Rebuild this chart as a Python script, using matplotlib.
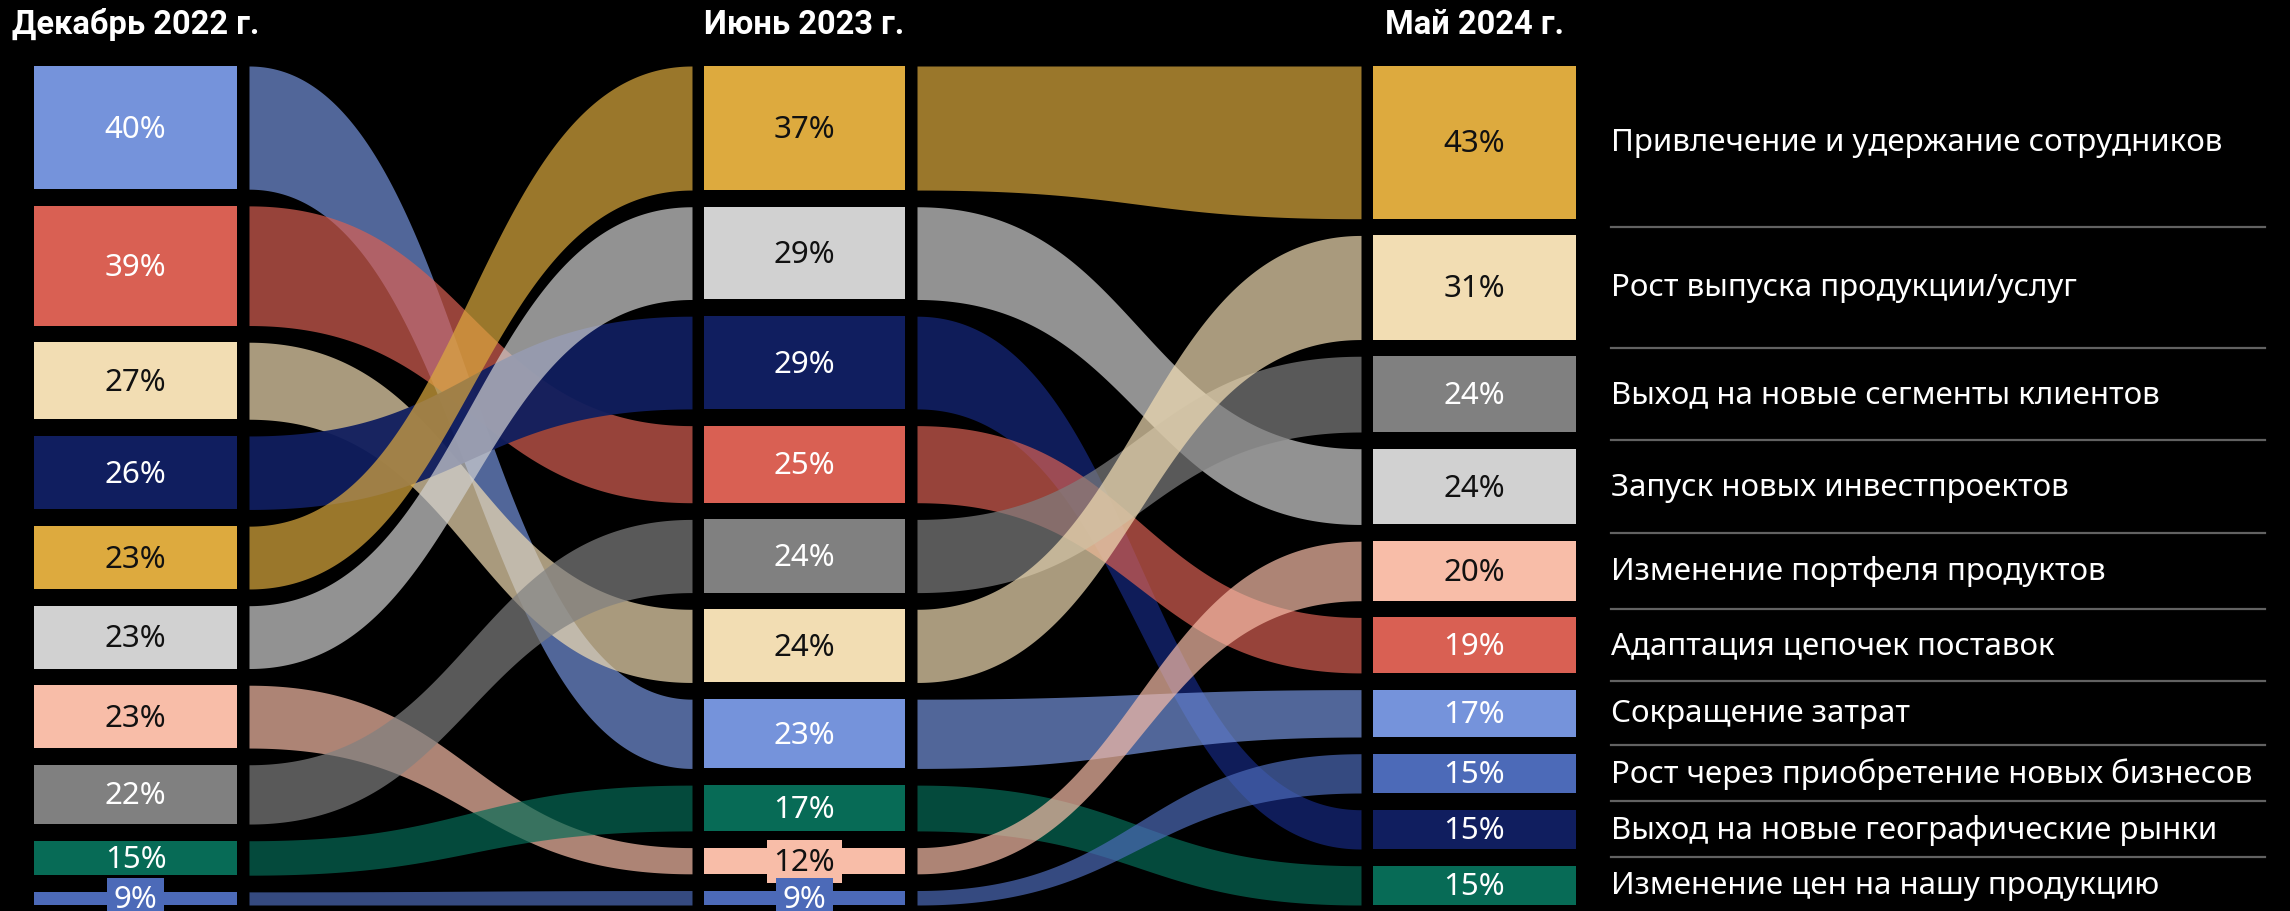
import numpy as np
import matplotlib
matplotlib.use("Agg")
from matplotlib import pyplot as plt

plt.rcParams['font.family'] = ['Noto Sans', 'DejaVu Sans']

periods = ['Декабрь 2022 г.', 'Июнь 2023 г.', 'Май 2024 г.']
categories = [
    'Привлечение и удержание сотрудников',
    'Рост выпуска продукции/услуг',
    'Выход на новые сегменты клиентов',
    'Запуск новых инвестпроектов',
    'Изменение портфеля продуктов',
    'Адаптация цепочек поставок',
    'Сокращение затрат',
    'Рост через приобретение новых бизнесов',
    'Выход на новые географические рынки',
    'Изменение цен на нашу продукцию',
]
colors = ['#DDAA3E', '#F2DDB3', '#808080', '#D1D1D1', '#F8BDA8',
          '#D96053', '#7593DB', '#4C6AB8', '#101E5F', '#076B56']
dec2022 = [23, 27, 22, 23, 23, 39, 40, 9, 26, 15]
jun2023 = [37, 24, 24, 29, 12, 25, 23, 9, 29, 17]
may2024 = [43, 31, 24, 24, 20, 19, 17, 15, 15, 15]
# порядок категорий сверху вниз в каждой колонке
order_dec = [6, 5, 1, 8, 0, 3, 4, 2, 9, 7]
order_jun = [0, 3, 8, 5, 2, 1, 6, 9, 4, 7]
order_may = [0, 1, 2, 3, 4, 5, 6, 7, 8, 9]
dark_text = [0, 1, 3, 4]

W, H = 2290, 912
col_x = [(34, 237), (704, 905), (1373, 1576)]
top, bottom, gap, v0 = 67, 906, 16.7, 5.3
flow_gap = 12


def layout(values, order):
    avail = (bottom - top) - gap * (len(order) - 1)
    w = np.array([values[i] - v0 for i in order])
    h = w / w.sum() * avail
    pos = {}
    y = top
    for i, hh in zip(order, h):
        pos[i] = (y, y + hh)
        y += hh + gap
    return pos


def flow(ax, xa, xb, ya, yb, color, alpha):
    t = np.linspace(0, 1, 300)
    xm = (xa + xb) / 2
    x = xa * (1 - t)**3 + 3 * xm * (1 - t)**2 * t + 3 * xm * (1 - t) * t**2 + xb * t**3
    s = 3 * t**2 - 2 * t**3
    y1 = ya[0] + (yb[0] - ya[0]) * s
    y2 = ya[1] + (yb[1] - ya[1]) * s
    ax.fill_between(x, y1, y2, color=color, alpha=alpha, lw=0, zorder=1)


def main():
    fig = plt.figure(figsize=(22.9, 9.12), dpi=100, facecolor='black')
    ax = fig.add_axes([0, 0, 1, 1])
    ax.set_facecolor('black')
    ax.set_xlim(0, W)
    ax.set_ylim(H, 0)
    ax.axis('off')

    cols = [(dec2022, order_dec), (jun2023, order_jun), (may2024, order_may)]
    pos = [layout(v, o) for v, o in cols]

    # потоки
    for c in range(2):
        xa = col_x[c][1] + flow_gap
        xb = col_x[c + 1][0] - flow_gap
        for i in cols[c][1]:
            a = 0.95 if i == 8 else 0.7
            flow(ax, xa, xb, pos[c][i], pos[c + 1][i], colors[i], a)

    # блоки и подписи процентов
    for c, (vals, order) in enumerate(cols):
        x0, x1 = col_x[c]
        for i in order:
            ya, yb = pos[c][i]
            ax.bar((x0 + x1) / 2, yb - ya, width=x1 - x0, bottom=ya,
                   color=colors[i], lw=0, zorder=2)
            tc = '#111111' if i in dark_text else 'white'
            bbox = None
            if yb - ya < 32:
                bbox = dict(boxstyle='square,pad=0.2', fc=colors[i], ec='none')
            ax.text((x0 + x1) / 2, (ya + yb) / 2 + 1, f'{vals[i]}%', ha='center',
                    va='center', fontsize=22.5, color=tc, bbox=bbox, zorder=3)
        ax.text((x0 + x1) / 2, 34, periods[c], ha='center', va='baseline',
                fontsize=23.5, fontweight='bold', color='white',
                family=['Roboto', 'DejaVu Sans'])

    # подписи категорий справа
    last = pos[2]
    for k, i in enumerate(order_may):
        ya, yb = last[i]
        ax.text(1611, (ya + yb) / 2, categories[i], ha='left', va='center',
                fontsize=22.5, color='white')
        if k < len(order_may) - 1:
            ny = last[order_may[k + 1]][0]
            ym = (yb + ny) / 2
            ax.plot([1611, 2265], [ym, ym], color='#626262', lw=1.6)

    fig.savefig('out.png', dpi=100, facecolor='black')


if __name__ == '__main__':
    main()
